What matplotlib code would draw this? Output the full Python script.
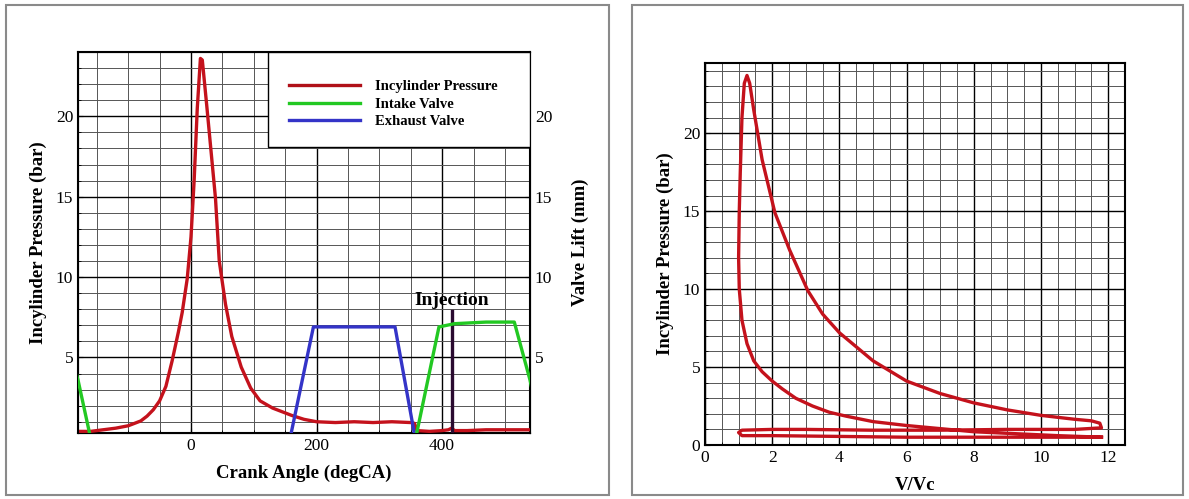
import matplotlib
matplotlib.use("Agg")
import matplotlib.pyplot as plt
from matplotlib.patches import Rectangle
from matplotlib.ticker import MultipleLocator

plt.rcParams['font.family'] = ['Liberation Serif', 'DejaVu Serif']

# --- Pressao no cilindro vs angulo de cambota ---
crank_angle = [-180, -160, -140, -120, -100, -80, -70, -60, -50, -40, -30, -20, -14, -6, 0,
               5, 10, 15, 18, 25, 32, 39, 45, 55, 65, 80, 95, 110, 130, 160, 180, 200,
               230, 260, 290, 320, 350, 356, 360, 380, 400, 410, 415, 420, 440, 470, 500, 540]
pressure = [0.4, 0.4, 0.5, 0.6, 0.75, 1.05, 1.35, 1.75, 2.3, 3.2, 4.8, 6.6, 7.8, 9.9, 12.5,
            16.0, 20.5, 23.6, 23.5, 20.7, 17.8, 14.9, 11.0, 8.3, 6.3, 4.4, 3.1, 2.3, 1.85, 1.4, 1.15, 1.0,
            0.95, 1.0, 0.95, 1.0, 0.95, 0.9, 0.45, 0.4, 0.45, 0.5, 0.6, 0.45, 0.45, 0.5, 0.5, 0.5]

# --- Levantamento das valvulas (mm) ---
exhaust_angle = [158, 195, 325, 357]
exhaust_lift = [0.0, 6.9, 6.9, 0.0]
intake_angle = [358, 395, 420, 470, 515, 540, 560]
intake_lift = [0.0, 6.9, 7.1, 7.2, 7.2, 3.6, 0.0]

injection_angle = 415
injection_top = 7.9

# --- Diagrama P-V ---
v_ratio = [11.8, 10.5, 9.0, 8.0, 7.0, 6.0, 5.0, 4.2, 3.7, 3.2, 2.7, 2.3, 2.0, 1.7, 1.45,
           1.25, 1.1, 1.02, 1.0, 1.02, 1.05, 1.1, 1.17, 1.25, 1.33, 1.45, 1.7, 2.08, 2.52,
           3.06, 3.5, 4.0, 5.0, 6.0, 7.0, 8.0, 9.0, 10.0, 11.0, 11.5, 11.75, 11.8,
           11.0, 9.0, 7.0, 5.0, 3.0, 2.0, 1.1, 1.0, 1.1, 2.0, 4.0, 6.0, 8.0, 10.0, 11.8]
pv_pressure = [0.5, 0.6, 0.75, 0.85, 1.05, 1.25, 1.5, 1.85, 2.1, 2.5, 3.0, 3.6, 4.1, 4.7, 5.4,
               6.5, 8.0, 10.0, 12.0, 15.0, 17.5, 21.0, 23.2, 23.7, 23.2, 21.5, 18.3, 14.9, 12.5,
               9.9, 8.4, 7.2, 5.4, 4.1, 3.3, 2.7, 2.25, 1.9, 1.65, 1.55, 1.4, 1.1,
               1.0, 1.0, 0.95, 0.95, 1.0, 1.0, 0.95, 0.8, 0.6, 0.6, 0.55, 0.5, 0.5, 0.5, 0.5]

red = '#c4121c'
green = '#22c822'
blue = '#3434c8'

fig = plt.figure(figsize=(11.89, 4.99), dpi=100)
W, H = 1189, 499

# molduras cinzentas a volta de cada grafico
for x0, x1 in [(6, 609), (632, 1183)]:
    fig.patches.append(Rectangle((x0 / W, 1 - 495 / H), (x1 - x0) / W, 490 / H,
                                 transform=fig.transFigure, fill=False,
                                 edgecolor='#8a8a8a', lw=1.5))


def estilo_grelha(ax):
    ax.grid(which='major', color='black', lw=1.0)
    ax.grid(which='minor', color='#555555', lw=0.7)
    ax.set_axisbelow(True)
    ax.tick_params(which='both', direction='in', labelsize=12.5)
    for s in ax.spines.values():
        s.set_linewidth(1.5)


# --- Grafico da esquerda ---
ax1 = fig.add_axes([78 / W, 1 - 433 / H, 452 / W, 381 / H])
ax1.plot(crank_angle, pressure, color=red, lw=2.4, zorder=3)
ax1.set_xlim(-180, 540)
ax1.set_ylim(0.3, 24)
ax1.xaxis.set_major_locator(MultipleLocator(200))
ax1.xaxis.set_minor_locator(MultipleLocator(50))
ax1.yaxis.set_major_locator(MultipleLocator(5))
ax1.yaxis.set_minor_locator(MultipleLocator(1))
estilo_grelha(ax1)
ax1.set_xlabel('Crank Angle (degCA)', fontsize=13.5, fontweight='bold', labelpad=8)
ax1.set_ylabel('Incylinder Pressure (bar)', fontsize=13.5, fontweight='bold', labelpad=6)

ax2 = ax1.twinx()
ax2.set_ylim(0.3, 24)
ax2.plot(exhaust_angle, exhaust_lift, color=blue, lw=2.4, zorder=3)
ax2.plot(intake_angle, intake_lift, color=green, lw=2.4, zorder=3)
# ciclo seguinte da admissao (periodo de 720 graus)
ax2.plot([a - 720 for a in intake_angle], intake_lift, color=green, lw=2.4, zorder=3)
ax2.plot([injection_angle, injection_angle], [0, injection_top], color='#2a0a30', lw=2.4)
ax2.text(injection_angle, injection_top + 0.1, 'Injection', ha='center', va='bottom',
         fontsize=14, fontweight='bold')
ax2.yaxis.set_major_locator(MultipleLocator(5))
ax2.tick_params(direction='in', labelsize=12.5)
ax2.set_ylabel('Valve Lift (mm)', fontsize=13.5, fontweight='bold', labelpad=14)

# caixa da legenda (canto superior direito)
ax2.add_patch(Rectangle(((268 - 78) / 452, (433 - 147) / 381), 1 - (268 - 78) / 452,
                        1 - (433 - 147) / 381, transform=ax2.transAxes,
                        facecolor='white', edgecolor='black', lw=1.0, zorder=4))
handles = [plt.Line2D([], [], color=c, lw=2.4) for c in ('#b01018', green, blue)]
ax2.legend(handles, ['Incylinder Pressure', 'Intake Valve', 'Exhaust Valve'],
           loc='upper left', bbox_to_anchor=((289 - 78) / 452, (433 - 80) / 381),
           borderaxespad=0, borderpad=0, frameon=False,
           prop={'size': 10.5, 'weight': 'bold'}, handlelength=4.9,
           labelspacing=0.3, handletextpad=1.0)

# --- Grafico da direita ---
ax3 = fig.add_axes([705 / W, 1 - 445 / H, 420 / W, 382 / H])
ax3.plot(v_ratio, pv_pressure, color=red, lw=2.4)
ax3.set_xlim(0, 12.5)
ax3.set_ylim(0, 24.5)
ax3.xaxis.set_major_locator(MultipleLocator(2))
ax3.xaxis.set_minor_locator(MultipleLocator(0.5))
ax3.yaxis.set_major_locator(MultipleLocator(5))
ax3.yaxis.set_minor_locator(MultipleLocator(1))
estilo_grelha(ax3)
ax3.set_xlabel('V/Vc', fontsize=13.5, fontweight='bold', labelpad=8)
ax3.set_ylabel('Incylinder Pressure (bar)', fontsize=13.5, fontweight='bold', labelpad=6)

fig.savefig('out.png', dpi=100)
